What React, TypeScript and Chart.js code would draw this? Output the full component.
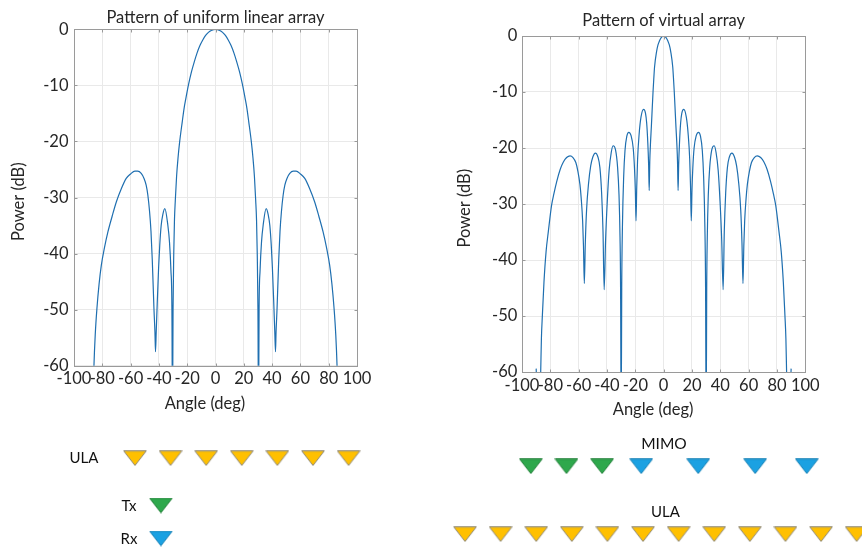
import React, { useEffect, useRef } from "react";
import { Chart, registerables } from "chart.js";

Chart.register(...registerables);

const FONT = "Lato, 'Open Sans', sans-serif";
const TEXT = "#262626";
const LINE = "#1f6fb0";
const GRID = "#e9e9e9";
const FRAME = "#9a9a9a";
const FONT_SIZE = 16.5;

// ---------- Pattern of uniform linear array ----------
const ulaAngles = [
  -86.5, -85.9, -85, -83.8, -82.3, -80.7, -78.5, -76, -73, -70.1, -66.5, -63.1, -60, -57, -55, -52.5,
  -50.5, -49, -47.8, -46.6, -45.6, -44.7, -43.5, -42.8, -42.4, -41.9, -41.2, -40.2, -39.4, -38.4, -37.2,
  -35.8, -33.7, -32.5, -31.5, -30.8, -30.4, -30, -29.5, -29, -28.4, -27.5, -26.5, -25.3, -23.5, -22.2,
  -21, -19, -17, -15, -13, -11, -9, -7, -5, -3, 0,
  3, 5, 7, 9, 11, 13, 15, 17, 19, 21, 22.2, 23.5, 25.3, 26.5, 27.5, 28.4, 29, 29.5, 30, 30.4, 30.8,
  31.5, 32.5, 33.7, 35.8, 37.2, 38.4, 39.4, 40.2, 41.2, 41.9, 42.4, 42.8, 43.5, 44.7, 45.6, 46.6, 47.8,
  49, 50.5, 52.5, 55, 57, 60, 63.1, 66.5, 70.1, 73, 76, 78.5, 80.7, 82.3, 83.8, 85, 85.9, 86.5,
];
const ulaPower = [
  -66, -60, -54.5, -49.8, -45.5, -42.1, -39, -36.1, -33.3, -30.8, -28.4, -26.6, -25.8, -25.3, -25.3, -25.7,
  -26.6, -27.8, -29.6, -32.5, -36, -41, -49.8, -54, -57.5, -54, -49, -42.5, -38.5, -35, -33,
  -32, -34.9, -38, -43, -50, -70, -50, -40, -34, -30.5, -26.2, -23, -20, -16.5, -14.1,
  -12.4, -9.8, -7.6, -5.8, -4.2, -2.9, -1.9, -1.1, -0.55, -0.2, 0,
  -0.2, -0.55, -1.1, -1.9, -2.9, -4.2, -5.8, -7.6, -9.8, -12.4, -14.1, -16.5, -20, -23, -26.2, -30.5, -34, -40, -50, -70, -50,
  -43, -38, -34.9, -32, -33, -35, -38.5, -42.5, -49, -54, -57.5, -54, -49.8, -41, -36, -32.5, -29.6,
  -27.8, -26.6, -25.7, -25.3, -25.3, -25.8, -26.6, -28.4, -30.8, -33.3, -36.1, -39, -42.1, -45.5, -49.8, -54.5, -60, -66,
];

// ---------- Pattern of virtual array ----------
const virtAngles = [
  -90, -89.6, -88.5, -87.4, -86.8, -86.3, -85.6, -84.5, -83, -81.4, -79.1, -77.5, -75.5, -73, -70.8, -68.5,
  -66.1, -64, -62, -60.5, -59.1, -58.2, -57.2, -56.6, -56, -55.3, -54.4, -53, -51.5, -50, -48.2, -46.4,
  -45, -43.8, -42.8, -42, -41, -39.8, -38.5, -37, -35.7, -34, -32.5, -31.5, -30.8, -30.4, -30, -29.6,
  -29.1, -28.2, -27.3, -26, -24.6, -23, -21.5, -20.6, -20, -19.5, -19, -18.4, -17.3, -16, -14.2, -12.8,
  -12, -11.2, -10.6, -10.2, -9.8, -9.3, -8.7, -8, -7.5, -7, -6.4, -5, -4, -3, -2, -1, 0,
  1, 2, 3, 4, 5, 6.4, 7, 7.5, 8, 8.7, 9.3, 9.8, 10.2, 10.6, 11.2, 12, 12.8, 14.2, 16, 17.3, 18.4, 19,
  19.5, 20, 20.6, 21.5, 23, 24.6, 26, 27.3, 28.2, 29.1, 29.6, 30, 30.4, 30.8, 31.5, 32.5, 34, 35.7, 37,
  38.5, 39.8, 41, 42, 42.8, 43.8, 45, 46.4, 48.2, 50, 51.5, 53, 54.4, 55.3, 56, 56.6, 57.2, 58.2, 59.1,
  60.5, 62, 64, 66.1, 68.5, 70.8, 73, 75.5, 77.5, 79.1, 81.4, 83, 84.5, 85.6, 86.3, 86.8, 87.4, 88.5, 89.6, 90,
];
const virtPower = [
  -59.4, -62, -70, -66, -60, -54, -49.8, -44, -38.5, -34.9, -30.2, -28.2, -26, -23.8, -22.5, -21.7,
  -21.4, -21.7, -22.6, -24.2, -26.5, -29, -33, -37.5, -44.2, -37, -31, -26.3, -23.2, -21.6, -20.9, -21.6,
  -23.5, -28, -35, -45.3, -36.5, -29.5, -24, -20.8, -19.6, -20.3, -23.5, -28.5, -36, -45, -70, -45,
  -34, -25, -20.5, -17.9, -17.2, -17.8, -20, -23.5, -27.5, -33, -27, -22, -17.5, -14.5, -13.1, -13.8,
  -15.5, -19, -23, -27.6, -22.5, -19.2, -16.3, -12.6, -10, -7.8, -5.5, -2.8, -1.6, -0.9, -0.4, -0.1, 0,
  -0.1, -0.4, -0.9, -1.6, -2.8, -5.5, -7.8, -10, -12.6, -16.3, -19.2, -22.5, -27.6, -23, -19, -15.5, -13.8, -13.1, -14.5, -17.5, -22, -27,
  -33, -27.5, -23.5, -20, -17.8, -17.2, -17.9, -20.5, -25, -34, -45, -70, -45, -36, -28.5, -23.5, -20.3, -19.6, -20.8,
  -24, -29.5, -36.5, -45.3, -35, -28, -23.5, -21.6, -20.9, -21.6, -23.2, -26.3, -31, -37, -44.2, -37.5, -33, -29, -26.5,
  -24.2, -22.6, -21.7, -21.4, -21.7, -22.5, -23.8, -26, -28.2, -30.2, -34.9, -38.5, -44, -49.8, -54, -60, -66, -70, -62, -59.4,
];

// ---------- Array geometry schematic (element positions in units of spacing d) ----------
const ulaElements = [0, 1, 2, 3, 4, 5, 6];
const mimoTx = [0, 1, 2];
const mimoRx = [3.1, 4.7, 6.3, 7.75];
const virtualElements = [0, 1, 2, 3, 4, 5, 6, 7, 8, 9, 10, 11];
const legendTx = [0.73];
const legendRx = [0.73];

const X_TICKS = { min: -100, max: 100, step: 20 };
const Y_TICKS = { min: -60, max: 0, step: 10 };

function makeTriangle(fill: string, stroke: string) {
  const c = document.createElement("canvas");
  c.width = 24;
  c.height = 16;
  const g = c.getContext("2d")!;
  g.beginPath();
  g.moveTo(0.75, 0.75);
  g.lineTo(23.25, 0.75);
  g.lineTo(12, 15.25);
  g.closePath();
  g.fillStyle = fill;
  g.fill();
  g.strokeStyle = stroke;
  g.lineWidth = 1;
  g.stroke();
  return c;
}

const framePlugin = {
  id: "frame",
  afterDatasetsDraw(chart: any) {
    const { ctx, chartArea: a, scales } = chart;
    ctx.save();
    ctx.strokeStyle = FRAME;
    ctx.lineWidth = 1;
    const l = Math.round(a.left) + 0.5;
    const t = Math.round(a.top) + 0.5;
    const r = Math.round(a.right) + 0.5;
    const b = Math.round(a.bottom) + 0.5;
    ctx.strokeRect(l, t, r - l, b - t);
    ctx.beginPath();
    scales.x.ticks.forEach((tk: any) => {
      const px = Math.round(scales.x.getPixelForValue(tk.value)) + 0.5;
      ctx.moveTo(px, t);
      ctx.lineTo(px, t + 3);
      ctx.moveTo(px, b);
      ctx.lineTo(px, b - 3);
    });
    scales.y.ticks.forEach((tk: any) => {
      const py = Math.round(scales.y.getPixelForValue(tk.value)) + 0.5;
      ctx.moveTo(l, py);
      ctx.lineTo(l + 3, py);
      ctx.moveTo(r, py);
      ctx.lineTo(r - 3, py);
    });
    ctx.stroke();
    ctx.restore();
  },
};

type Geo = {
  padRight: number;
  titleTop: number;
  titleBottom: number;
  xAxisH: number;
  xTickPad: number;
  xTitleBottom: number;
  yAxisW: number;
  yTickPad: number;
  yTitlePad: number;
};

function patternConfig(angles: number[], power: number[], titleText: string, geo: Geo): any {
  const font = { family: FONT, size: FONT_SIZE, weight: "normal" as const };
  return {
    type: "line",
    data: {
      datasets: [
        {
          data: angles.map((a, i) => ({ x: a, y: power[i] })),
          borderColor: LINE,
          borderWidth: 1.2,
          pointRadius: 0,
          fill: false,
          cubicInterpolationMode: "monotone",
        },
      ],
    },
    options: {
      responsive: false,
      animation: false,
      devicePixelRatio: 1,
      events: [],
      layout: { autoPadding: false, padding: { left: 0, right: geo.padRight, top: 0, bottom: 0 } },
      plugins: {
        legend: { display: false },
        tooltip: { enabled: false },
        title: {
          display: true,
          fullSize: false,
          text: titleText,
          color: TEXT,
          font,
          padding: { top: geo.titleTop, bottom: geo.titleBottom },
        },
      },
      scales: {
        x: {
          type: "linear",
          min: X_TICKS.min,
          max: X_TICKS.max,
          afterFit: (s: any) => {
            s.height = geo.xAxisH;
          },
          ticks: {
            stepSize: X_TICKS.step,
            autoSkip: false,
            maxRotation: 0,
            padding: geo.xTickPad,
            color: TEXT,
            font,
          },
          grid: { color: GRID, drawTicks: false },
          border: { display: false },
          title: {
            display: true,
            text: "Angle (deg)     ",
            color: TEXT,
            font,
            padding: { top: 0, bottom: geo.xTitleBottom },
          },
        },
        y: {
          type: "linear",
          min: Y_TICKS.min,
          max: Y_TICKS.max,
          afterFit: (s: any) => {
            s.width = geo.yAxisW;
          },
          ticks: { stepSize: Y_TICKS.step, padding: geo.yTickPad, color: TEXT, font },
          grid: { color: GRID, drawTicks: false },
          border: { display: false },
          title: {
            display: true,
            text: "Power (dB)  ",
            color: TEXT,
            font,
            padding: { top: geo.yTitlePad, bottom: 0 },
          },
        },
      },
    },
    plugins: [framePlugin],
  };
}

// schematic scale: one element spacing ~35.6 px across the 862 px wide strip
const DIAG_X = { min: -3.79, max: 20.42 };
const DIAG_Y = { min: 0, max: 128 };
const ROW = { ulaLeft: 38.2, tx: 85.5, rx: 118.5, mimo: 46.3, ulaRight: 114.2 };
const ORIGIN = { ulaLeft: 0, mimo: 11.12, virtual: 9.27 };

export default function App() {
  const leftRef = useRef<HTMLCanvasElement>(null);
  const rightRef = useRef<HTMLCanvasElement>(null);
  const diagRef = useRef<HTMLCanvasElement>(null);

  useEffect(() => {
    const gold = makeTriangle("#FFC000", "#8f8a7a");
    const green = makeTriangle("#2EA84C", "#23803a");
    const blue = makeTriangle("#1BA1E2", "#1780b5");

    const left = new Chart(
      leftRef.current!,
      patternConfig(ulaAngles, ulaPower, "Pattern of uniform linear array", {
        padRight: 73,
        titleTop: 7.4,
        titleBottom: 2.1,
        xAxisH: 54.3,
        xTickPad: 3.4,
        xTitleBottom: 6.1,
        yAxisW: 74,
        yTickPad: 5.5,
        yTitlePad: 8.4,
      })
    );
    const right = new Chart(
      rightRef.current!,
      patternConfig(virtAngles, virtPower, "Pattern of virtual array", {
        padRight: 56.7,
        titleTop: 10.8,
        titleBottom: 5.4,
        xAxisH: 48,
        xTickPad: 4.1,
        xTitleBottom: 0,
        yAxisW: 92,
        yTickPad: 4.7,
        yTitlePad: 25.1,
      })
    );

    const pts = (xs: number[], origin: number, row: number) => xs.map((x) => ({ x: x + origin, y: row }));
    const ds = (data: any[], style: HTMLCanvasElement) => ({
      data,
      pointStyle: style,
      pointRadius: 8,
      showLine: false,
      clip: false,
    });

    const diag = new Chart(diagRef.current!, {
      type: "scatter",
      data: {
        datasets: [
          ds(pts(ulaElements, ORIGIN.ulaLeft, ROW.ulaLeft), gold),
          ds(pts(legendTx, 0, ROW.tx), green),
          ds(pts(legendRx, 0, ROW.rx), blue),
          ds(pts(mimoTx, ORIGIN.mimo, ROW.mimo), green),
          ds(pts(mimoRx, ORIGIN.mimo, ROW.mimo), blue),
          ds(pts(virtualElements, ORIGIN.virtual, ROW.ulaRight), gold),
        ],
      },
      options: {
        responsive: false,
        animation: false,
        devicePixelRatio: 1,
        events: [],
        layout: { autoPadding: false, padding: 0 },
        plugins: { legend: { display: false }, tooltip: { enabled: false } },
        scales: {
          x: { type: "linear", display: false, min: DIAG_X.min, max: DIAG_X.max },
          y: { type: "linear", display: false, min: DIAG_Y.min, max: DIAG_Y.max, reverse: true },
        },
      },
    } as any);

    return () => {
      left.destroy();
      right.destroy();
      diag.destroy();
    };
  }, []);

  const label = (text: string, cx: number, cy: number, size = 15) => (
    <div
      style={{
        position: "absolute",
        left: cx,
        top: cy,
        transform: "translate(-50%, -50%)",
        font: `${size}px ${FONT}`,
        lineHeight: `${size}px`,
        color: "#111",
        whiteSpace: "nowrap",
      }}
    >
      {text}
    </div>
  );

  return (
    <div
      style={{
        position: "fixed",
        left: 0,
        top: 0,
        width: 862,
        height: 548,
        background: "#fff",
        overflow: "hidden",
      }}
    >
      <canvas
        ref={leftRef}
        width={430}
        height={420}
        style={{ position: "absolute", left: 0, top: 0, width: 430, height: 420, display: "block" }}
      />
      <canvas
        ref={rightRef}
        width={432}
        height={420}
        style={{ position: "absolute", left: 430, top: 0, width: 432, height: 420, display: "block" }}
      />
      <canvas
        ref={diagRef}
        width={862}
        height={128}
        style={{ position: "absolute", left: 0, top: 420, width: 862, height: 128, display: "block" }}
      />
      {label("ULA", 84, 457)}
      {label("Tx", 129, 504.5)}
      {label("Rx", 129, 538)}
      {label("MIMO", 664, 444, 15.5)}
      {label("ULA", 665.5, 511.3)}
    </div>
  );
}
